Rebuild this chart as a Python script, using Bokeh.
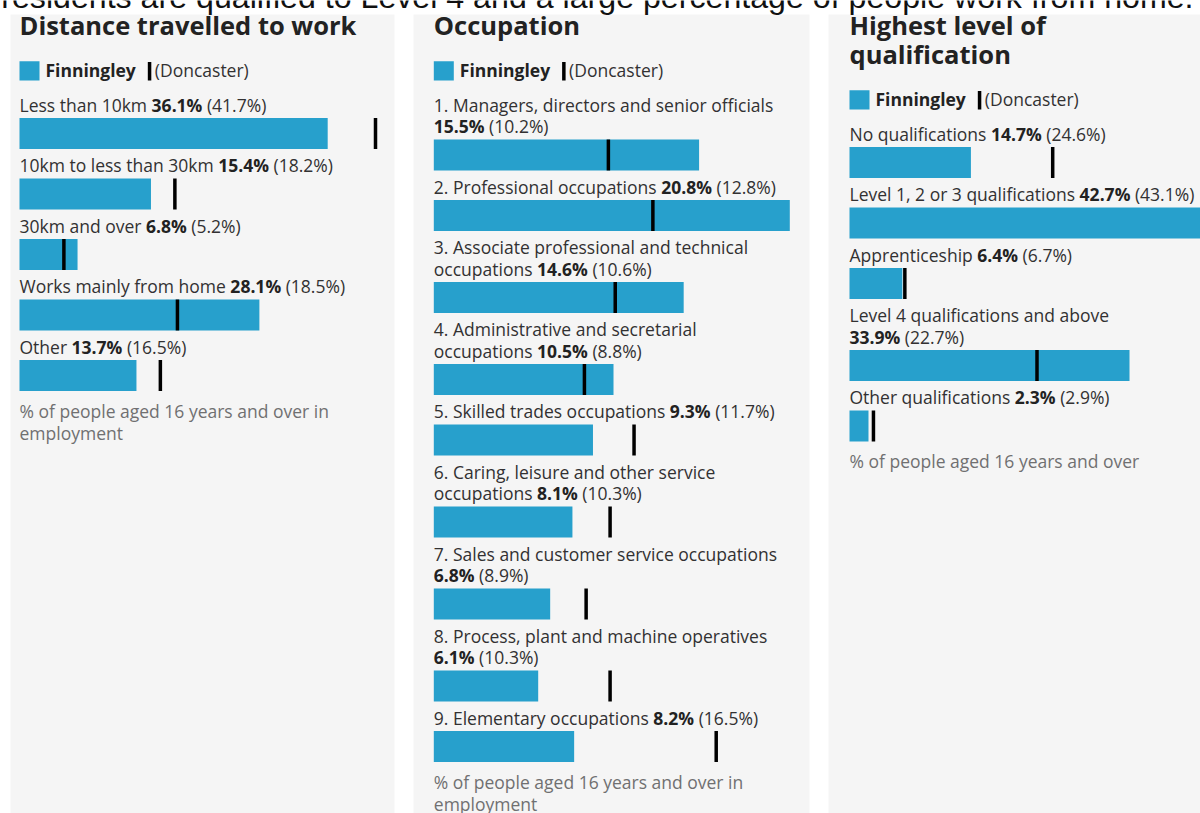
import os
import struct
import subprocess

from bokeh.plotting import figure
from bokeh.models import Range1d, ColumnDataSource
from bokeh.core.properties import value
from bokeh.embed import file_html
from bokeh.resources import INLINE

# ---------------- data ----------------
intro_text = "residents are qualified to Level 4 and a large percentage of people work from home."
area_name = "Finningley"
comparison_name = "(Doncaster)"

dist_title = "Distance travelled to work"
dist_labels = ["Less than 10km", "10km to less than 30km", "30km and over",
               "Works mainly from home", "Other"]
dist_local = [36.1, 15.4, 6.8, 28.1, 13.7]
dist_comp = [41.7, 18.2, 5.2, 18.5, 16.5]
dist_note = "% of people aged 16 years and over in employment"

occ_title = "Occupation"
occ_labels = ["1. Managers, directors and senior officials",
              "2. Professional occupations",
              "3. Associate professional and technical occupations",
              "4. Administrative and secretarial occupations",
              "5. Skilled trades occupations",
              "6. Caring, leisure and other service occupations",
              "7. Sales and customer service occupations",
              "8. Process, plant and machine operatives",
              "9. Elementary occupations"]
occ_local = [15.5, 20.8, 14.6, 10.5, 9.3, 8.1, 6.8, 6.1, 8.2]
occ_comp = [10.2, 12.8, 10.6, 8.8, 11.7, 10.3, 8.9, 10.3, 16.5]
occ_note = "% of people aged 16 years and over in employment"

qual_title = "Highest level of qualification"
qual_labels = ["No qualifications", "Level 1, 2 or 3 qualifications",
               "Apprenticeship", "Level 4 qualifications and above",
               "Other qualifications"]
qual_local = [14.7, 42.7, 6.4, 33.9, 2.3]
qual_comp = [24.6, 43.1, 6.7, 22.7, 2.9]
qual_note = "% of people aged 16 years and over"


# ---------------- text measuring ----------------
def fc_file(pattern):
    try:
        r = subprocess.run(["fc-match", "-f", "%{file}", pattern],
                           capture_output=True, text=True, timeout=20)
        f = r.stdout.strip()
        if f and os.path.exists(f):
            return f
    except Exception:
        pass
    return None


def parse_font(path):
    data = open(path, "rb").read()
    off = 0
    if data[:4] == b"ttcf":
        off = struct.unpack(">I", data[12:16])[0]
    ntab = struct.unpack(">H", data[off + 4:off + 6])[0]
    tables = {}
    for i in range(ntab):
        rec = data[off + 12 + 16 * i: off + 28 + 16 * i]
        tag = rec[:4].decode("latin1")
        _, toff, tlen = struct.unpack(">III", rec[4:])
        tables[tag] = (toff, tlen)
    ho = tables["head"][0]
    upem = struct.unpack(">H", data[ho + 18:ho + 20])[0]
    hh = tables["hhea"][0]
    nhm = struct.unpack(">H", data[hh + 34:hh + 36])[0]
    hm = tables["hmtx"][0]
    adv = [struct.unpack(">H", data[hm + 4 * i:hm + 4 * i + 2])[0] for i in range(nhm)]
    co = tables["cmap"][0]
    n = struct.unpack(">H", data[co + 2:co + 4])[0]
    sub = None
    for i in range(n):
        pid, eid, so = struct.unpack(">HHI", data[co + 4 + 8 * i:co + 12 + 8 * i])
        fmt = struct.unpack(">H", data[co + so:co + so + 2])[0]
        if fmt == 4:
            sub = co + so
            break
    cmap = {}
    segx2 = struct.unpack(">H", data[sub + 6:sub + 8])[0]
    segc = segx2 // 2
    ends = struct.unpack(">%dH" % segc, data[sub + 14:sub + 14 + segx2])
    starts = struct.unpack(">%dH" % segc, data[sub + 16 + segx2:sub + 16 + 2 * segx2])
    deltas = struct.unpack(">%dh" % segc, data[sub + 16 + 2 * segx2:sub + 16 + 3 * segx2])
    rpos = sub + 16 + 3 * segx2
    roffs = struct.unpack(">%dH" % segc, data[rpos:rpos + segx2])
    for s in range(segc):
        for c in range(starts[s], min(ends[s], 0x24F) + 1):
            if roffs[s] == 0:
                g = (c + deltas[s]) & 0xFFFF
            else:
                a = rpos + 2 * s + roffs[s] + 2 * (c - starts[s])
                g = struct.unpack(">H", data[a:a + 2])[0]
                if g:
                    g = (g + deltas[s]) & 0xFFFF
            cmap[c] = g
    variable = "fvar" in tables

    def width(text, size):
        tot = 0
        for ch in text:
            g = cmap.get(ord(ch), 0)
            tot += adv[min(g, nhm - 1)]
        return tot * size / upem
    return width, variable


def make_measure(family, bold):
    path = fc_file(family + (":bold" if bold else ""))
    if path:
        try:
            from PIL import ImageFont
            f = ImageFont.truetype(path, 200)
            try:
                axes = f.get_variation_axes()
                vals = []
                for a in axes:
                    nm = a.get("name", b"")
                    nm = nm.decode("latin1") if isinstance(nm, bytes) else str(nm)
                    if "eight" in nm:
                        vals.append(700 if bold else 400)
                    elif "idth" in nm:
                        vals.append(100)
                    else:
                        vals.append(a.get("default", a.get("minimum")))
                f.set_variation_by_axes(vals)
            except Exception:
                pass
            return lambda t, s: f.getlength(t) * s / 200.0
        except Exception:
            pass
        try:
            w, var = parse_font(path)
            factor = 1.07 if (bold and var) else 1.0
            return lambda t, s: w(t, s) * factor
        except Exception:
            pass
    return lambda t, s: len(t) * s * (0.6 if bold else 0.55)


reg_w = make_measure("Open Sans", False)
bold_w = make_measure("Open Sans", True)
arial_w = make_measure("Liberation Sans", False)

# ---------------- layout constants ----------------
W, H = 1200, 813
FONT = "Open Sans"
PANEL_L = [10, 413, 828]
PANEL_R = [394, 809, 1215]
PANEL_TOP = 14
CONTENT_X = [19, 433.3, 849]
BAR_SPAN = 356.0
WRAP_W = 358.0
REF_FS, REF_TS = 16, 24          # nominal sizes of the reference
REF_K, REF_TK = 1.115, 1.076     # width factor of the reference rendering
FS, TS = 17.5, 25.5              # rendered sizes (to match reference widths)
TITLE_BASE = 34.3
TITLE_LH = 29.0
LINE_H = 21.5
NOTE_LH = 22.5
BAR_H = 31.0
BASE_SHIFT = 0.375               # bokeh alphabetic anchor correction (em)
BLUE = "#27a0cc"
TXT = "#323132"
DARK = "#222222"
GREY = "#707071"
BG = "#f5f5f5"

p = figure(width=W, height=H, x_range=Range1d(0, W), y_range=Range1d(H, 0),
           output_backend="svg", toolbar_location=None, min_border=0)
p.xaxis.visible = False
p.yaxis.visible = False
p.grid.visible = False
p.outline_line_color = None
p.background_fill_color = "white"
p.border_fill_color = "white"

# panel backgrounds
p.quad(left=PANEL_L, right=PANEL_R, top=[PANEL_TOP] * 3, bottom=[H + 5] * 3,
       fill_color=BG, line_color=None)

texts = {}


def add_text(x, baseline, t, size, bold, color, family=FONT, align="left"):
    key = (size, bold, color, family, align)
    d = texts.setdefault(key, {"x": [], "y": [], "text": []})
    d["x"].append(x)
    d["y"].append(baseline - BASE_SHIFT * size)
    d["text"].append(t)


def ref_w(t):
    return reg_w(t, REF_FS) * REF_K


def ref_bw(t):
    return bold_w(t, REF_FS) * REF_K


REF_SP = ref_w(" ")
SP = reg_w(" ", FS)


def wrap_words(words, wfun, maxw):
    lines = [[]]
    cur = 0.0
    sp = wfun(" ")
    for wd in words:
        ww = wfun(wd)
        if lines[-1] and cur + sp + ww > maxw:
            lines.append([wd])
            cur = ww
        else:
            cur += (sp if lines[-1] else 0) + ww
            lines[-1].append(wd)
    return [" ".join(l) for l in lines]


def panel(i, name, title, labels, local, comp, note):
    x0 = CONTENT_X[i]
    vmax = max(max(local), max(comp))
    k = BAR_SPAN / vmax
    p.extra_x_ranges[name] = Range1d(start=-x0 / k, end=(W - x0) / k)

    # title
    tlines = wrap_words(title.split(" "),
                        lambda t: bold_w(t, REF_TS) * REF_TK, WRAP_W)
    for j, tl in enumerate(tlines):
        add_text(x0, TITLE_BASE + j * TITLE_LH, tl, TS, True, DARK)
    tb = TITLE_BASE + (len(tlines) - 1) * TITLE_LH

    # legend
    p.quad(left=[x0], right=[x0 + 20], top=[tb + 26.4], bottom=[tb + 45.7],
           fill_color=BLUE, line_color=None)
    add_text(x0 + 26, tb + 41.7, area_name, FS, True, DARK)
    bx = x0 + 26 + bold_w(area_name, FS) + 12
    p.quad(left=[bx], right=[bx + 3.5], top=[tb + 27.2], bottom=[tb + 45.7],
           fill_color="black", line_color=None)
    add_text(bx + 7, tb + 41.7, comparison_name, FS, False, TXT)

    # rows
    cursor = tb + 76.7
    ys = []
    for lab, v, c in zip(labels, local, comp):
        vs = f"{v:.1f}%"
        cs = f"({c:.1f}%)"
        unit_w = ref_bw(vs) + REF_SP + ref_w(cs)
        lines = [[]]
        cur = 0.0
        toks = [(wd, ref_w(wd)) for wd in lab.split(" ")] + [(None, unit_w)]
        for tok, tw in toks:
            if lines[-1] and cur + REF_SP + tw > WRAP_W:
                lines.append([tok])
                cur = tw
            else:
                cur += (REF_SP if lines[-1] else 0) + tw
                lines[-1].append(tok)
        for j, ln in enumerate(lines):
            yb = cursor + j * LINE_H
            words = [t for t in ln if t is not None]
            s = " ".join(words)
            if s:
                add_text(x0, yb, s, FS, False, TXT)
            if None in ln:
                xb = x0 + (reg_w(s, FS) + SP if s else 0)
                add_text(xb, yb, vs, FS, True, DARK)
                add_text(xb + bold_w(vs, FS) + SP, yb, cs, FS, False, TXT)
        bar_top = cursor + (len(lines) - 1) * LINE_H + 6.5
        ys.append(bar_top + BAR_H / 2)
        cursor = bar_top + BAR_H + 23.0

    src = ColumnDataSource(dict(y=ys, local=local, comp=comp))
    p.hbar(y="y", left=0, right="local", height=BAR_H, source=src,
           fill_color=BLUE, line_color=None, x_range_name=name)
    p.rect(x="comp", y="y", width=3.5, width_units="screen", height=BAR_H,
           source=src, fill_color="black", line_color=None, x_range_name=name)

    # footnote
    nb = ys[-1] + BAR_H / 2 + 26.5
    for j, nl in enumerate(wrap_words(note.split(" "), ref_w, WRAP_W)):
        add_text(x0, nb + j * NOTE_LH, nl, FS, False, GREY)


panel(0, "dist", dist_title, dist_labels, dist_local, dist_comp, dist_note)
panel(1, "occ", occ_title, occ_labels, occ_local, occ_comp, occ_note)
panel(2, "qual", qual_title, qual_labels, qual_local, qual_comp, qual_note)

# clipped intro sentence at the very top
iw = arial_w(intro_text, 28)
isize = round(28 * 1193.0 / iw, 2) if iw > 0 else 28
add_text(1193, 8.3, intro_text, isize, False, "#111111",
         family="Liberation Sans", align="right")

for (size, bold, color, family, align), d in texts.items():
    p.text(x="x", y="y", text="text", source=ColumnDataSource(d),
           text_font=value(family), text_font_size=value(f"{size}px"),
           text_font_style="bold" if bold else "normal", text_color=color,
           text_align=align, text_baseline="alphabetic")

open("out.html", "w").write(file_html(p, INLINE))
